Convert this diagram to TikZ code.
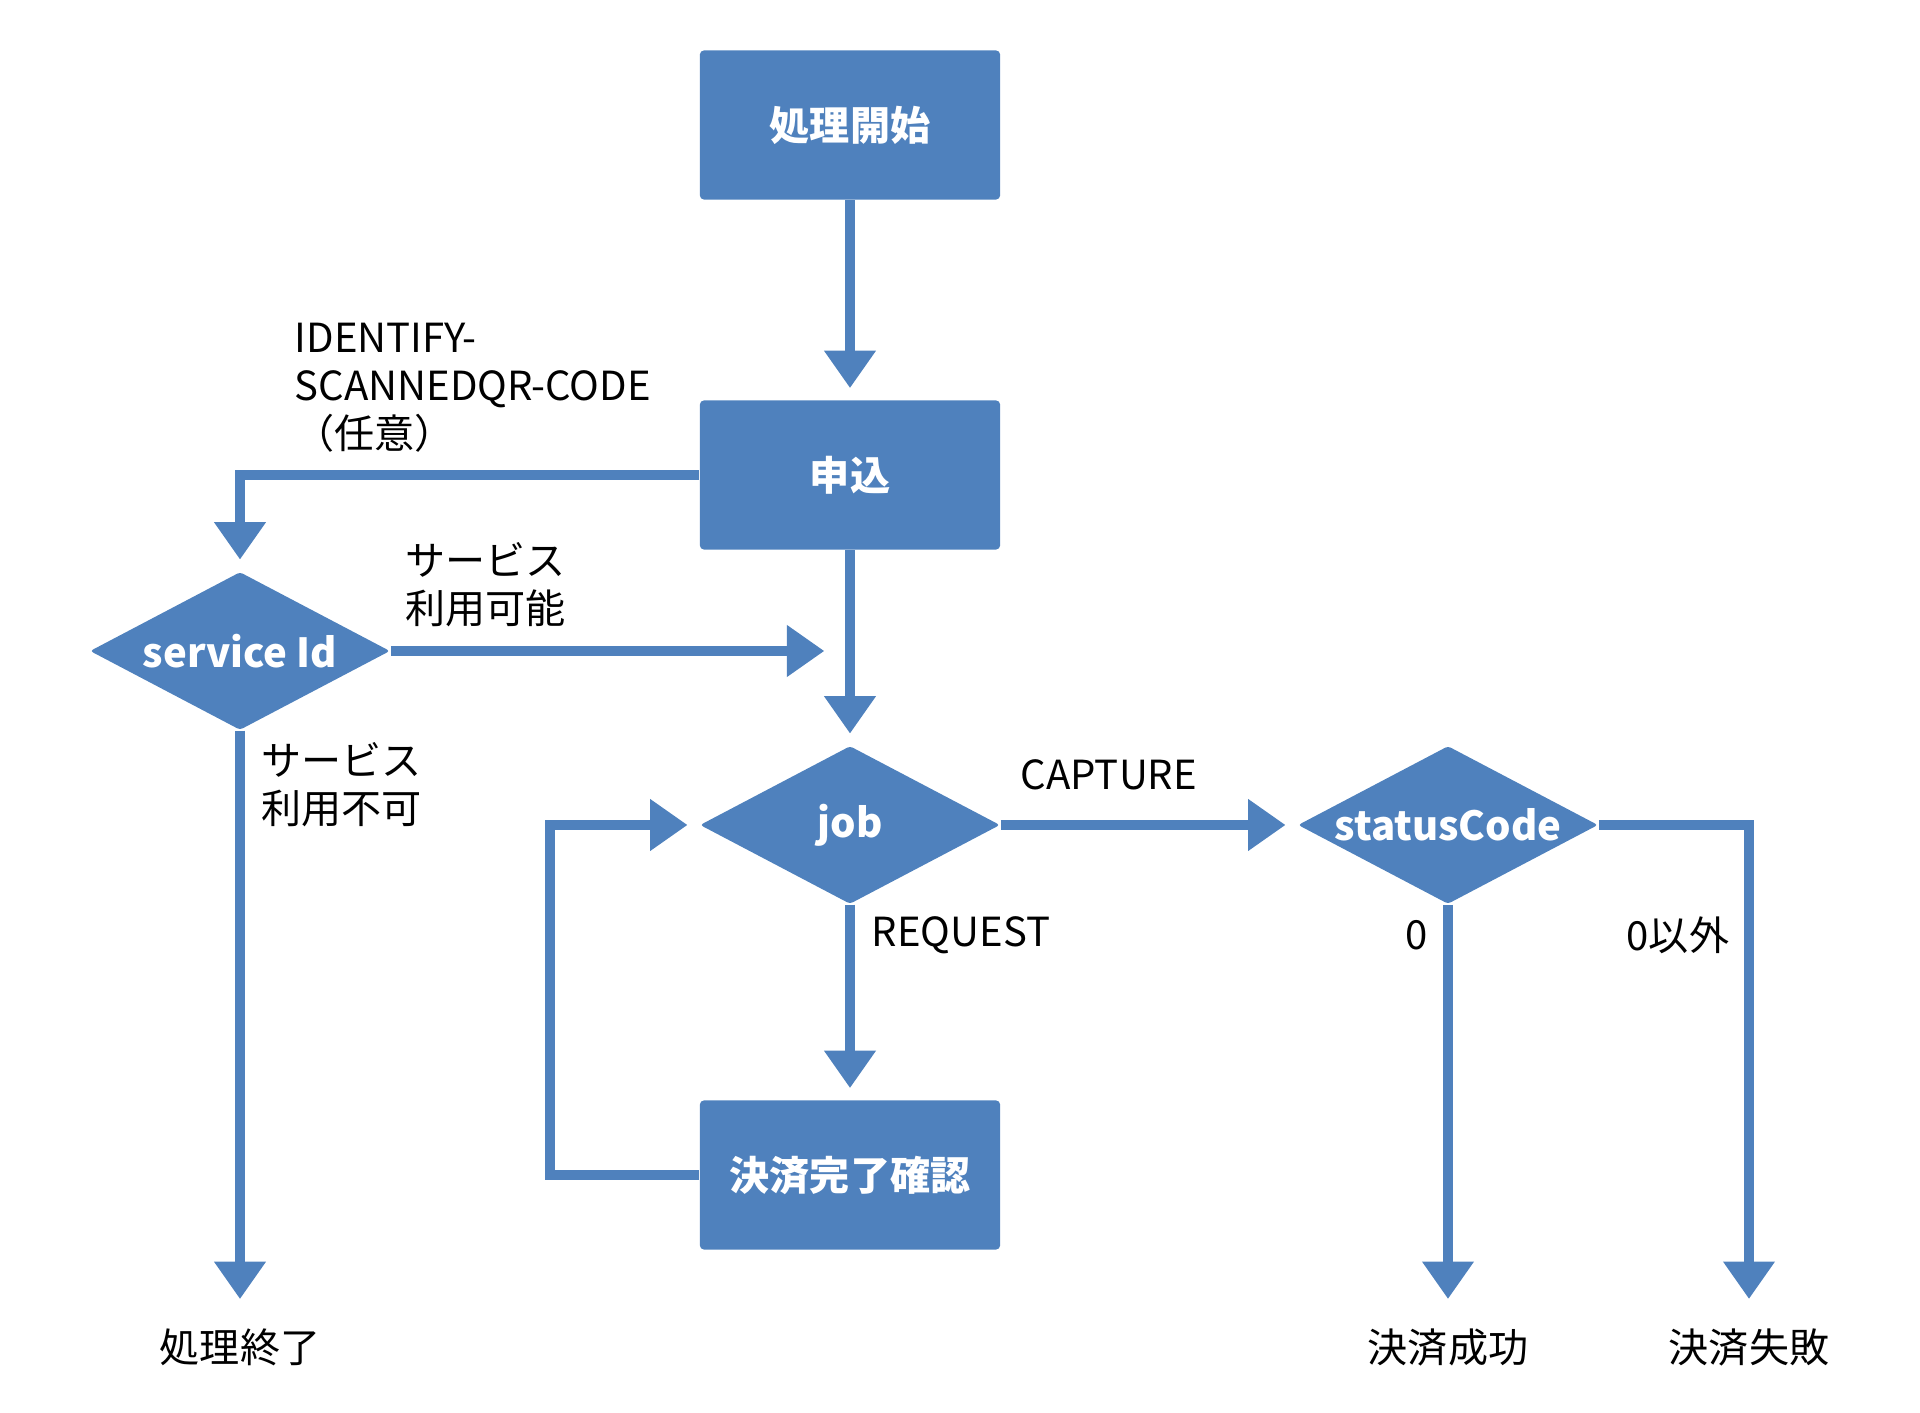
\documentclass[tikz,border=0pt]{standalone}
\usepackage{fontspec}
\setmainfont{Noto Sans CJK JP}
\usepackage{tikz}
\usetikzlibrary{arrows.meta}
\usetikzlibrary{shapes.geometric}
\definecolor{flowblue}{HTML}{4F81BD}
\newcommand{\flowfont}{\fontsize{11.4}{13.7}\selectfont}

\tikzset{
  proc/.style={fill=flowblue, text=white, font=\flowfont\bfseries, rounded corners=0.04cm,
    minimum width=3cm, minimum height=1.49cm, inner sep=0pt},
  decision/.style={diamond, aspect=1.9, fill=flowblue, text=white, font=\flowfont\bfseries, rounded corners=0.03cm,
    minimum width=3cm, minimum height=1.58cm, inner sep=0pt},
  flow/.style={draw=flowblue, line width=0.1cm, -{Triangle[width=0.52cm,length=0.37cm,line width=0pt]},
    shorten >=0.12cm},
  endflow/.style={flow, shorten >=0.29cm},
  lbl/.style={font=\flowfont, align=left, anchor=west, inner sep=0pt},
  endlbl/.style={font=\flowfont, inner sep=0pt}
}

\begin{document}
\begin{tikzpicture}[x=0.01cm, y=-0.01cm]
  \useasboundingbox (0,0) rectangle (1920,1413);

  \node[proc] (start) at (850,125) {処理開始};
  \node[proc] (apply) at (850,475) {申込};
  \node[decision] (svc) at (240,651) {service Id};
  \node[decision] (job) at (850,825) {job};
  \node[decision] (status) at (1448,825) {statusCode};
  \node[proc] (confirm) at (850,1175) {決済完了確認};
  \node[endlbl] (finish) at (240,1347) {処理終了};
  \node[endlbl] (success) at (1448,1347) {決済成功};
  \node[endlbl] (failure) at (1749,1347) {決済失敗};
  \coordinate (merge) at (824,651);

  \node[lbl] (idlbl) at (294,388) {IDENTIFY-\\SCANNEDQR-CODE\\（任意）};
  \node[lbl] (oklbl) at (405,585) {サービス\\利用可能};
  \node[lbl] (nglbl) at (261,785) {サービス\\利用不可};
  \node[lbl] (caplbl) at (1020,775) {CAPTURE};
  \node[lbl] (reqlbl) at (871,935) {REQUEST};
  \node[endlbl] (zerolbl) at (1417,935) {0};
  \node[lbl] (otherlbl) at (1626,935) {0以外};

  \draw[flow] (start) -- (apply);
  \draw[flow] (apply) -- (job);
  \draw[flow] (apply.west) -| (svc.north);
  \draw[flow, shorten >=0pt] (svc.east) -- (merge);
  \draw[flow] (job) -- (confirm);
  \draw[flow] (confirm.west) -- ++(-149,0) |- (job.west);
  \draw[flow] (job) -- (status);
  \draw[endflow] (svc) -- (finish);
  \draw[endflow] (status) -- (success);
  \draw[endflow] (status.east) -| (failure.north);
\end{tikzpicture}
\end{document}
